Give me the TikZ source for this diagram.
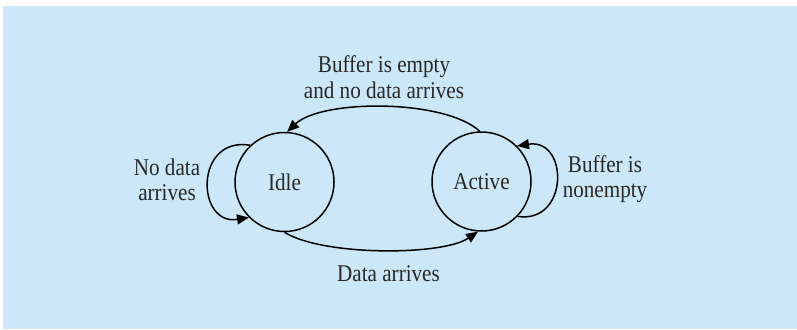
\documentclass[tikz,border=0pt]{standalone}
\usepackage{fontspec}
\setmainfont{Liberation Serif}
\usetikzlibrary{arrows.meta}
\definecolor{bgblue}{RGB}{204,232,248}
\definecolor{txt}{RGB}{40,40,40}
\newcommand\lbl[1]{\scalebox{0.88}[1]{\begin{tabular}{@{}c@{}}#1\end{tabular}}}
\begin{document}
\begin{tikzpicture}[x=1pt,y=-1pt,
  state/.style={circle,draw=black,line width=1.5pt,minimum size=99pt,inner sep=0pt,text=txt,font=\fontsize{24}{25}\selectfont},
  label text/.style={inner sep=0pt,text=txt,font=\fontsize{24}{25}\selectfont},
  conn/.style={line width=1.5pt,-{Triangle[length=12pt,width=10pt]}}]
\useasboundingbox (0,0) rectangle (797,329);
\fill[white] (0,0) rectangle (797,329);
\fill[bgblue] (3,6) rectangle (797,329);
\node[state] (idle) at (284.5,182) {\scalebox{0.88}[1]{Idle}};
\node[state] (active) at (481.5,181.5) {\scalebox{0.88}[1]{Active}};
\node[label text] (ltop) at (384,80.5) {\lbl{Buffer is empty\\and no data arrives}};
\node[label text] (lleft) at (167,182.5) {\lbl{No data\\arrives}};
\node[label text] (lright) at (605,180) {\lbl{Buffer is\\nonempty}};
\node[label text,anchor=base] (lbot) at (388.5,281) {\scalebox{0.88}[1]{Data arrives}};
\draw[conn] (active.92) .. controls (445,99) and (322,99) .. (idle.87);
\draw[conn] (idle.270) .. controls (322,256) and (442,256) .. (active.266);
\draw[conn] (idle.133) .. controls (194,136) and (196,226) .. (idle.225);
\draw[conn] (active.-44) .. controls (569,224) and (569,138) .. (active.45);
\end{tikzpicture}
\end{document}
